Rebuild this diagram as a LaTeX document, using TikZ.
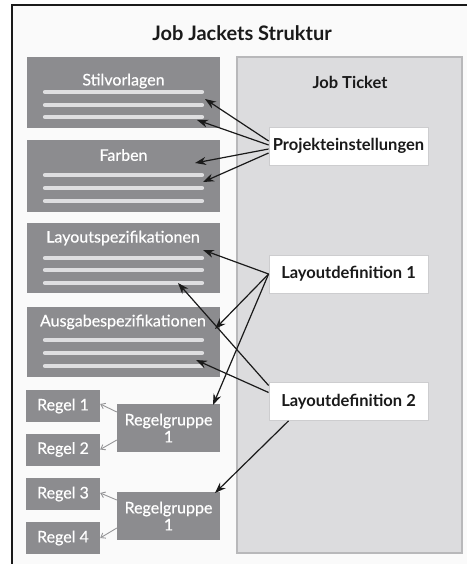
\documentclass[tikz,border=0pt]{standalone}
\usepackage{fontspec}
\setmainfont{Lato}
\newfontfamily\medfont[FakeBold=0.5]{Lato}
\usetikzlibrary{arrows.meta}
\definecolor{darkbox}{RGB}{140,140,143}
\definecolor{barcol}{RGB}{222,222,224}
\definecolor{ticketfill}{RGB}{220,220,222}
\definecolor{ticketline}{RGB}{184,184,186}
\definecolor{framebg}{RGB}{250,250,250}
\definecolor{ink}{RGB}{26,26,26}
\definecolor{grayarrow}{RGB}{150,150,152}
\begin{document}
\begin{tikzpicture}[x=1pt,y=-1pt,
  dbox/.style={draw=none,fill=darkbox,inner sep=0pt,minimum width=#1},
  dbox/.default=193pt,
  wtext/.style={text=white,font=\medfont\fontsize{16}{17}\selectfont,inner sep=0pt},
  rtext/.style={fill=darkbox,text=white,font=\medfont\fontsize{16}{17}\selectfont,inner sep=0pt,minimum width=74pt,minimum height=32pt},
  rgbox/.style={fill=darkbox,text=white,font=\medfont\fontsize{16}{17}\selectfont,inner sep=0pt,minimum width=103pt,minimum height=48pt,align=center},
  wbox/.style={draw=ticketline!70,line width=0.8pt,fill=white,inner sep=0pt,minimum width=159pt,minimum height=38pt,font=\bfseries\fontsize{16.5}{18}\selectfont,text=ink},
  bar/.style={draw=barcol,line width=4.2pt,line cap=round},
  arr/.style={draw=ink,line width=1.2pt,-{Stealth[length=11pt,width=8pt]}},
  garr/.style={draw=grayarrow,line width=0.9pt,-{Straight Barb[length=4pt,width=6pt]}}
]
\useasboundingbox (0,0) rectangle (467,564);
\fill[white] (0,0) rectangle (467,564);
\fill[framebg] (12,5) rectangle (467,564);
\draw[ink,line width=1.6pt] (12,564) -- (12,5) -- (467,5);

\node[font=\bfseries\fontsize{20}{22}\selectfont,text=ink] (title) at (242,33) {Job Jackets Struktur};

% Job ticket
\node[draw=ticketline,line width=1.5pt,fill=ticketfill,minimum width=225pt,minimum height=496pt,inner sep=0pt] (ticket) at (349.5,305) {};
\node[font=\bfseries\fontsize{16.5}{18}\selectfont,text=ink] (tickett) at (350,82) {Job Ticket};

% left boxes
\node[dbox,minimum height=71pt] (stil) at (123.5,92.5) {};
\node[wtext] (stilt) at (123.5,81) {Stilvorlagen};
\draw[bar] (45,92) -- (202,92);
\draw[bar] (45,105) -- (202,105);
\draw[bar] (45,117) -- (202,117);

\node[dbox,minimum height=72pt] (farb) at (123.5,176) {};
\node[wtext] (farbt) at (123.5,155) {Farben};
\draw[bar] (45,175) -- (202,175);
\draw[bar] (45,188) -- (202,188);
\draw[bar] (45,201) -- (202,201);

\node[dbox,minimum height=70pt] (lspec) at (123.5,258) {};
\node[wtext] (lspect) at (123,238) {Layoutspezifikationen};
\draw[bar] (45,258) -- (202,258);
\draw[bar] (45,270) -- (202,270);
\draw[bar] (45,283) -- (202,283);

\node[dbox,minimum height=70pt] (ausg) at (123.5,342) {};
\node[wtext] (ausgt) at (123,322) {Ausgabespezifikationen};
\draw[bar] (45,340) -- (202,340);
\draw[bar] (45,353) -- (202,353);
\draw[bar] (45,366) -- (202,366);

% Regel boxes
\node[rtext] (r1) at (63,406) {Regel 1};
\node[rtext] (r2) at (63,449.5) {Regel 2};
\node[rtext] (r3) at (63,494) {Regel 3};
\node[rtext] (r4) at (63,538) {Regel 4};
\node[rgbox] (rg1) at (168.5,428) {Regelgruppe\\1};
\node[rgbox] (rg2) at (168.5,516) {Regelgruppe\\1};

% white boxes
\node[wbox] (proj) at (348.5,146) {Projekteinstellungen};
\node[wbox] (ld1) at (348.5,274) {Layoutdefinition 1};
\node[wbox] (ld2) at (348.5,401.5) {Layoutdefinition 2};

% arrow targets
\coordinate (s2) at (205,99);
\coordinate (s3) at (197,120);
\coordinate (f1) at (195,163);
\coordinate (f2) at (203,182);
\coordinate (lst) at (203,250);
\coordinate (aut) at (215,329);
\coordinate (rg1t) at (213,405);
\coordinate (lsb) at (178,283);
\coordinate (aub) at (196,360);
\coordinate (rg2t) at (215,493);

\draw[arr] ([yshift=5pt]proj.west) -- (s2);
\draw[arr] ([yshift=1pt]proj.west) -- (s3);
\draw[arr] ([yshift=-3pt]proj.west) -- (f1);
\draw[arr] ([yshift=-7pt]proj.west) -- (f2);

\draw[arr] (ld1.west) -- (lst);
\draw[arr] (ld1.west) -- (aut);
\draw[arr] (ld1.west) -- (rg1t);

\draw[arr] ([yshift=16pt]ld2.west) -- (lsb);
\draw[arr] ([yshift=9pt]ld2.west) -- (aub);
\draw[arr] ([xshift=-60pt]ld2.south) -- (rg2t);

% gray arrows
\draw[garr] ([yshift=16pt]rg1.west) -- ([yshift=2pt]r1.east);
\draw[garr] ([yshift=-12pt]rg1.west) -- (r2.east);
\draw[garr] ([yshift=16pt]rg2.west) -- ([yshift=1pt]r3.east);
\draw[garr] ([yshift=-12pt]rg2.west) -- (r4.east);
\end{tikzpicture}
\end{document}
